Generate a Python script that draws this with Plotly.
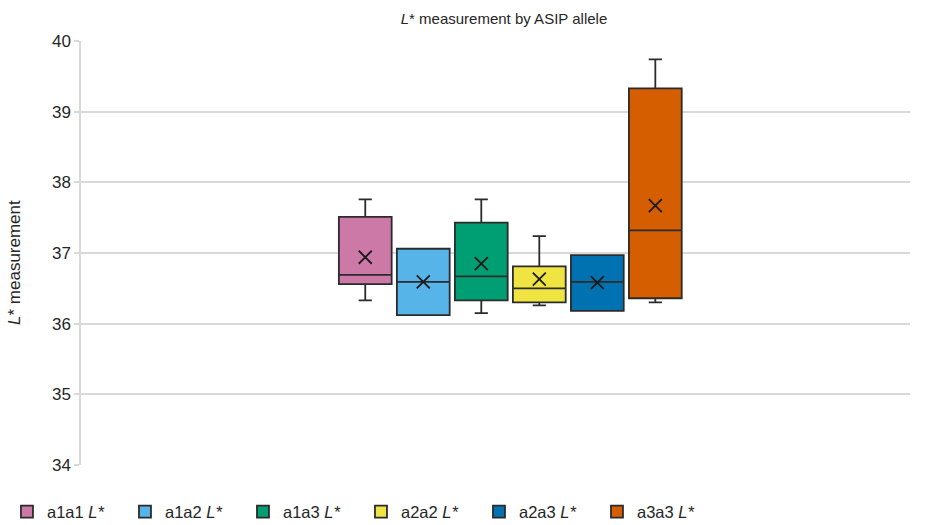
import plotly.graph_objects as go

genotypes = ["a1a1", "a1a2", "a1a3", "a2a2", "a2a3", "a3a3"]
lower_whisker = [36.33, 36.12, 36.15, 36.26, 36.18, 36.30]
q1_values = [36.56, 36.12, 36.33, 36.30, 36.18, 36.36]
median_values = [36.69, 36.59, 36.67, 36.50, 36.59, 37.32]
q3_values = [37.51, 37.06, 37.43, 36.81, 36.97, 39.33]
upper_whisker = [37.76, 37.06, 37.76, 37.24, 36.97, 39.74]
mean_values = [36.94, 36.59, 36.85, 36.63, 36.58, 37.67]
colors = ["#CC79A7", "#56B4E9", "#009E73", "#F0E442", "#0072B2", "#D55E00"]
y_ticks = [34, 35, 36, 37, 38, 39, 40]

FONT = "Liberation Sans, Arial, sans-serif"

fig = go.Figure()
for i, g in enumerate(genotypes):
    fig.add_trace(go.Box(
        x=[g], q1=[q1_values[i]], median=[median_values[i]], q3=[q3_values[i]],
        lowerfence=[lower_whisker[i]], upperfence=[upper_whisker[i]],
        name=f"{g} <i>L*</i>", fillcolor=colors[i], width=0.91,
        line=dict(color="#2b2b2b", width=1.8), whiskerwidth=0.25,
        boxpoints=False, hoverinfo="y",
    ))
for i, g in enumerate(genotypes):
    fig.add_trace(go.Scatter(
        x=[g], y=[mean_values[i]], mode="markers", showlegend=False,
        marker=dict(symbol="x-thin", size=13, line=dict(color="#1a1a1a", width=1.8)),
        hoverinfo="y",
    ))

fig.update_layout(
    width=929, height=525,
    paper_bgcolor="white", plot_bgcolor="white",
    margin=dict(l=81, r=19, t=41, b=60, autoexpand=False),
    font=dict(family=FONT, color="#262626"),
    title=dict(text="<i>L</i>* measurement by ASIP allele", x=0.5425, xanchor="center",
               y=0.965, yanchor="middle", font=dict(size=15, family=FONT, color="#262626")),
    boxmode="overlay",
    showlegend=True,
    legend=dict(orientation="h", xref="container", yref="container", x=0.0075, xanchor="left",
                y=0.025, yanchor="middle", font=dict(size=16.5, family=FONT),
                entrywidth=73, entrywidthmode="pixels", itemwidth=30,
                traceorder="normal"),
    annotations=[dict(
        text="<i>L</i>* measurement", textangle=-90, xref="paper", yref="paper",
        x=(14 - 81) / 829, y=(465 - 263) / 424, xanchor="center", yanchor="middle",
        showarrow=False, font=dict(size=17, family=FONT, color="#262626"),
    )],
)
fig.update_xaxes(
    type="category", categoryorder="array", categoryarray=genotypes,
    range=[-4.9, 9.39], showticklabels=False, ticks="", showgrid=False,
    zeroline=False, showline=False,
)
fig.update_yaxes(
    range=[34, 40], tickvals=y_ticks, showgrid=True, gridcolor="#d9d9d9", gridwidth=1.5,
    showline=True, linecolor="#d9d9d9", linewidth=1.5, ticks="outside", ticklen=5,
    tickcolor="#d9d9d9", tickwidth=1.5, zeroline=False, automargin=False,
    tickfont=dict(size=17, family=FONT, color="#262626"),
)
fig.write_html("out.html", config={"displayModeBar": False},
               post_script="document.body.style.margin='0';document.body.style.overflow='hidden';")
